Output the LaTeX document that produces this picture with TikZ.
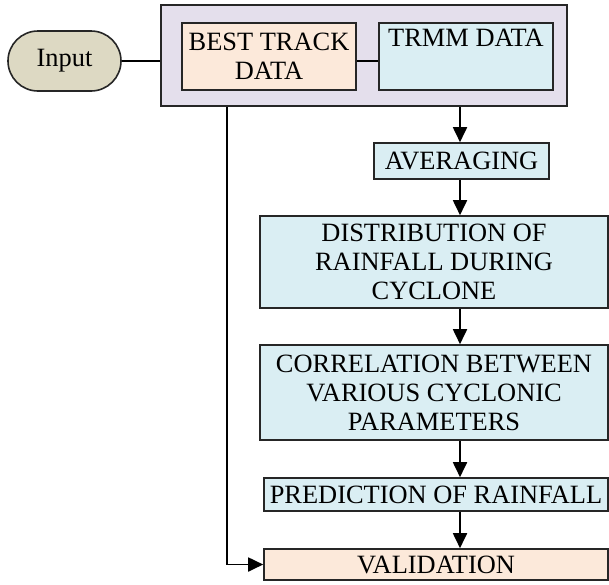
\documentclass[tikz,border=0pt]{standalone}
\usepackage{fontspec}
\setmainfont{Liberation Serif}
\usetikzlibrary{arrows.meta}
\definecolor{groupfill}{HTML}{E4DFEC}
\definecolor{peach}{HTML}{FCE9DA}
\definecolor{paleblue}{HTML}{DAEEF3}
\definecolor{khaki}{HTML}{DDD9C3}
\tikzset{
  box/.style={draw=black!85, line width=1.6pt, inner sep=0pt, align=center,
    font=\fontsize{26.4}{29}\selectfont},
  link/.style={draw=black, line width=1.5pt},
  flow/.style={link, line width=1.8pt, -{Triangle[length=15pt,width=14pt]}},
}
\begin{document}
\begin{tikzpicture}[x=1pt,y=-1pt]
\useasboundingbox (0,0) rectangle (609,584);
% input group
\node[box, fill=groupfill, minimum width=406pt, minimum height=101pt] (grp) at (364,55.5) {};
\node[box, fill=peach, minimum width=174pt, minimum height=67pt] (best) at (269,56.5) {BEST TRACK\\DATA};
\node[box, fill=paleblue, minimum width=174pt, minimum height=67pt] (trmm) at (466,56.5) {TRMM DATA\\\strut};
\node[box, fill=khaki, minimum width=113pt, minimum height=60pt, rounded corners=30pt] (input) at (64.5,61) {Input};
% processing chain
\node[box, fill=paleblue, minimum width=175pt, minimum height=36pt] (avg) at (461.5,161) {AVERAGING};
\node[box, fill=paleblue, minimum width=348pt, minimum height=92pt] (dist) at (434,262) {DISTRIBUTION OF\\RAINFALL DURING\\CYCLONE};
\node[box, fill=paleblue, minimum width=348pt, minimum height=95pt] (corr) at (434,392.5) {CORRELATION BETWEEN\\VARIOUS CYCLONIC\\PARAMETERS};
\node[box, fill=paleblue, minimum width=344pt, minimum height=33pt] (pred) at (436,494.5) {PREDICTION OF RAINFALL};
\node[box, fill=peach, minimum width=344pt, minimum height=31pt] (valid) at (436,564.5) {VALIDATION};
% axis of the main flow and of the bypass line
\coordinate (ax) at (460,0);
\coordinate (bx) at (227,0);
% connectors
\draw[link] (input.east) -- (input.east -| grp.west);
\draw[link] (best.east |- 0,61) -- (trmm.west |- 0,61);
\draw[flow] (grp.south -| ax) -- (avg.north -| ax);
\draw[flow] (avg.south -| ax) -- (dist.north -| ax);
\draw[flow] (dist.south -| ax) -- (corr.north -| ax);
\draw[flow] (corr.south -| ax) -- (pred.north -| ax);
\draw[flow] (pred.south -| ax) -- (valid.north -| ax);
\draw[flow] (grp.south -| bx) |- (valid.west);
\end{tikzpicture}
\end{document}
